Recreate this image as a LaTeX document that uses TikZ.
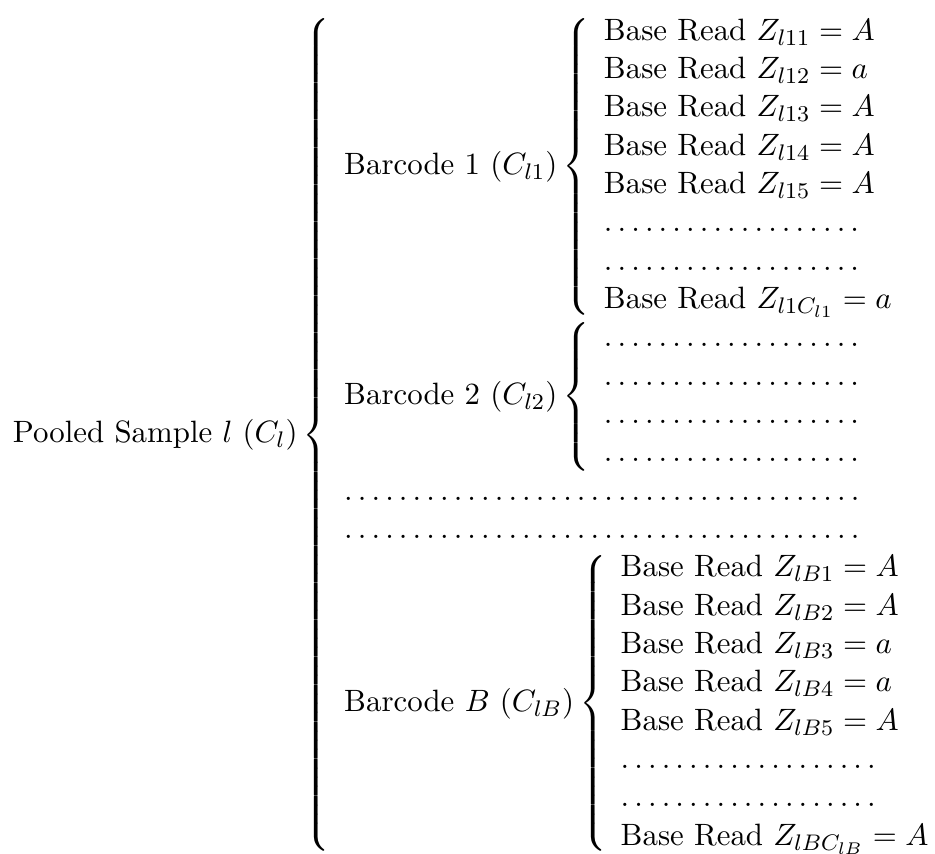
\documentclass[tikz,border=0pt,11pt]{standalone}
\usepackage{amsmath}
\usetikzlibrary{calc}

% a row of evenly spaced baseline dots (19 of them)
\newcommand{\dotrow}{\ldotp\ldotp\ldotp\ldotp\ldotp\ldotp\ldotp\ldotp\ldotp\ldotp\ldotp\ldotp\ldotp\ldotp\ldotp\ldotp\ldotp\ldotp\ldotp}
\newcommand{\baseread}[2]{\text{Base Read } Z_{#1} = #2}

\tikzset{tree/.style={inner sep=0pt, outer sep=0pt, anchor=south west}}

\begin{document}
\begin{tikzpicture}
\node[tree,overlay] (tree) at (0,0) {$\displaystyle
\text{Pooled Sample } l\ (C_l)
\left\{
\begin{array}{l}
\text{Barcode 1 } (C_{l1})
\left\{
\begin{array}{l}
\baseread{l11}{A}\\
\baseread{l12}{a}\\
\baseread{l13}{A}\\
\baseread{l14}{A}\\
\baseread{l15}{A}\\
\dotrow\\
\dotrow\\
\baseread{l1C_{l1}}{a}
\end{array}
\right.\\
\text{Barcode 2 } (C_{l2})
\left\{
\begin{array}{l}
\dotrow\\
\dotrow\\
\dotrow\\
\dotrow
\end{array}
\right.\\
\dotrow\dotrow\\
\dotrow\dotrow\\
\text{Barcode } B\ (C_{lB})
\left\{
\begin{array}{l}
\baseread{lB1}{A}\\
\baseread{lB2}{A}\\
\baseread{lB3}{a}\\
\baseread{lB4}{a}\\
\baseread{lB5}{A}\\
\dotrow\\
\dotrow\\
\baseread{lBC_{lB}}{A}
\end{array}
\right.
\end{array}
\right.$};
% page frame: margins in proportion to the height of the formula
\path let \p1=(tree.south west), \p2=(tree.north east), \n1={\y2-\y1} in
  [use as bounding box] (\x1-0.0154*\n1,\y1+0.0032*\n1) rectangle (\x1+1.0934*\n1,\y2+0.0159*\n1);
\end{tikzpicture}
\end{document}
